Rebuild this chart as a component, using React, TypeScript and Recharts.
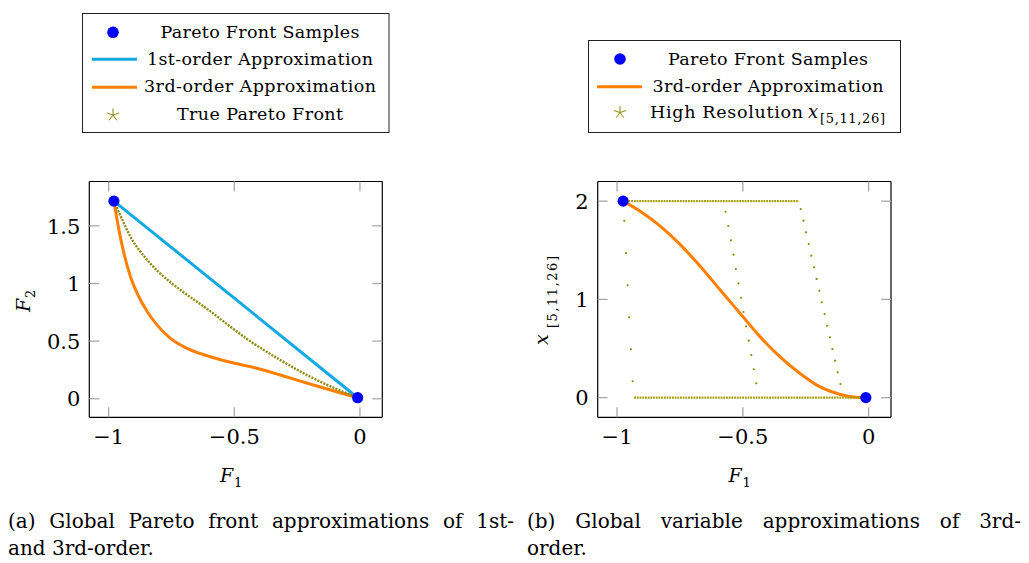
import React from 'react';
import { ComposedChart, Line, Scatter, XAxis, YAxis } from 'recharts';

// ---- panel (a): Pareto front approximations ----
const samplesF1 = [-0.979, -0.009];
const samplesF2 = [1.715, 0.009];

const firstOrderF1 = [-0.979, -0.009];
const firstOrderF2 = [1.715, 0.009];

const thirdOrderF1 = [-0.979, -0.959, -0.939, -0.913, -0.88, -0.846, -0.807, -0.754, -0.688, -0.608, -0.516, -0.41, -0.317, -0.185, -0.079, -0.009];
const thirdOrderF2 = [1.715, 1.463, 1.261, 1.058, 0.885, 0.755, 0.639, 0.524, 0.437, 0.373, 0.316, 0.264, 0.206, 0.119, 0.052, 0.009];

const trueFrontF1 = [-0.979, -0.939, -0.913, -0.846, -0.754, -0.714, -0.615, -0.437, -0.317, -0.185, -0.009];
const trueFrontF2 = [1.715, 1.521, 1.405, 1.203, 1.01, 0.943, 0.79, 0.5, 0.336, 0.177, 0.009];

// ---- panel (b): variable approximations ----
const varSamplesF1 = [-0.976, -0.011];
const varSamplesX = [2, 0];

const varThirdF1 = [-0.976, -0.905, -0.826, -0.747, -0.668, -0.59, -0.511, -0.432, -0.353, -0.274, -0.195, -0.116, -0.05, -0.011];
const varThirdX = [2.0, 1.892, 1.74, 1.553, 1.333, 1.096, 0.859, 0.621, 0.417, 0.248, 0.112, 0.035, 0.004, 0];

// high resolution samples where the variables switch
const x5F1 = [-0.9712, -0.9645, -0.9578, -0.9515, -0.9448, -0.9381];
const x5Val = [1.8, 1.472, 1.143, 0.818, 0.492, 0.167];
const x11F1 = [-0.5687, -0.558, -0.5474, -0.5371, -0.5276, -0.5174, -0.5067, -0.4976, -0.487, -0.4763, -0.4661, -0.4566, -0.4463];
const x11Val = [1.892, 1.747, 1.601, 1.455, 1.309, 1.164, 1.017, 0.872, 0.726, 0.58, 0.434, 0.289, 0.146];
const x26F1 = [-0.27, -0.259, -0.249, -0.238, -0.228, -0.217, -0.207, -0.196, -0.186, -0.175, -0.165, -0.154, -0.144, -0.133, -0.123, -0.112];
const x26Val = [1.92, 1.801, 1.683, 1.564, 1.445, 1.327, 1.208, 1.089, 0.971, 0.851, 0.732, 0.614, 0.495, 0.376, 0.258, 0.139];
// the densely sampled flat stretches
const upperF1 = [-0.976, -0.277];
const upperVal = [2, 2];
const lowerF1 = [-0.932, -0.011];
const lowerVal = [0, 0];

const xTicks = [-1, -0.5, 0];
const f2Ticks = [0, 0.5, 1, 1.5];
const varTicks = [0, 1, 2];

const SERIF = "'DejaVu Serif', serif";
const BLUE = '#0000ff';
const CYAN = '#12a9e3';
const ORANGE = '#ff7f00';
const OLIVE = '#8c8800';
const TICK = '#a8a8a8';

const zip = (xs: number[], ys: number[]) => xs.map((x, i) => ({ x, y: ys[i] }));
const fmt = (v: number) => (v < 0 ? `\u2212${Math.abs(v)}` : `${v}`);

const labelStyle = { fontFamily: SERIF, fontSize: 21, fill: '#000' };

const BottomTick = (p: any) => (
  <g>
    <line x1={p.x} x2={p.x} y1={p.y} y2={p.y - 10} stroke={TICK} strokeWidth={1.3} />
    <text x={p.x} y={p.y + 27} textAnchor="middle" style={labelStyle}>{fmt(p.payload.value)}</text>
  </g>
);
const TopTick = (p: any) => (
  <line x1={p.x} x2={p.x} y1={p.y} y2={p.y + 10} stroke={TICK} strokeWidth={1.3} />
);
const LeftTick = (p: any) => (
  <g>
    <line x1={p.x} x2={p.x + 10} y1={p.y} y2={p.y} stroke={TICK} strokeWidth={1.3} />
    <text x={p.x - 9} y={p.y + 7.7} textAnchor="end" style={labelStyle}>{fmt(p.payload.value)}</text>
  </g>
);
const RightTick = (p: any) => (
  <line x1={p.x} x2={p.x - 10} y1={p.y} y2={p.y} stroke={TICK} strokeWidth={1.3} />
);

const BigDot = (p: any) => <circle cx={p.cx} cy={p.cy} r={5.6} fill={BLUE} />;
const TinyDot = (p: any) => <circle cx={p.cx} cy={p.cy} r={1.1} fill={OLIVE} />;

const X_DOMAIN: [number, number] = [-1.077, 0.089];
const frame = { stroke: '#000', strokeWidth: 1.2 };
const ids = { xAxisId: 'b', yAxisId: 'l' };

function ParetoChart() {
  const yDomain: [number, number] = [-0.161, 1.885];
  return (
    <ComposedChart width={520} height={500} margin={{ top: 180.5, left: 88.3, right: 136.7, bottom: 81.7 }}>
      <XAxis xAxisId="b" dataKey="x" type="number" domain={X_DOMAIN} allowDataOverflow ticks={xTicks}
        interval={0} height={1} tickSize={0} tickMargin={0} axisLine={frame} tickLine={false} tick={BottomTick} />
      <XAxis xAxisId="t" orientation="top" dataKey="x" type="number" domain={X_DOMAIN} allowDataOverflow
        ticks={xTicks} interval={0} height={1} tickSize={0} tickMargin={0} axisLine={frame} tickLine={false} tick={TopTick} />
      <YAxis yAxisId="l" dataKey="y" type="number" domain={yDomain} allowDataOverflow ticks={f2Ticks}
        interval={0} width={1} tickSize={0} tickMargin={0} axisLine={frame} tickLine={false} tick={LeftTick} />
      <YAxis yAxisId="r" orientation="right" dataKey="y" type="number" domain={yDomain} allowDataOverflow
        ticks={f2Ticks} interval={0} width={1} tickSize={0} tickMargin={0} axisLine={frame} tickLine={false} tick={RightTick} />
      <Scatter {...ids} data={zip(samplesF1, samplesF2)} shape={BigDot} isAnimationActive={false} />
      <Line {...ids} data={zip(firstOrderF1, firstOrderF2)} dataKey="y" type="linear" stroke={CYAN}
        strokeWidth={3} dot={false} activeDot={false} isAnimationActive={false} />
      <Line {...ids} data={zip(thirdOrderF1, thirdOrderF2)} dataKey="y" type="monotone" stroke={ORANGE}
        strokeWidth={3} dot={false} activeDot={false} isAnimationActive={false} />
      <Line {...ids} data={zip(trueFrontF1, trueFrontF2)} dataKey="y" type="monotone" stroke={OLIVE}
        strokeWidth={2.4} strokeDasharray="2 1.3" dot={false} activeDot={false} isAnimationActive={false} />
    </ComposedChart>
  );
}

function VariableChart() {
  const yDomain: [number, number] = [-0.2, 2.2];
  return (
    <ComposedChart width={509} height={500} margin={{ top: 180.5, left: 76.7, right: 137, bottom: 81.7 }}>
      <XAxis xAxisId="b" dataKey="x" type="number" domain={X_DOMAIN} allowDataOverflow ticks={xTicks}
        interval={0} height={1} tickSize={0} tickMargin={0} axisLine={frame} tickLine={false} tick={BottomTick} />
      <XAxis xAxisId="t" orientation="top" dataKey="x" type="number" domain={X_DOMAIN} allowDataOverflow
        ticks={xTicks} interval={0} height={1} tickSize={0} tickMargin={0} axisLine={frame} tickLine={false} tick={TopTick} />
      <YAxis yAxisId="l" dataKey="y" type="number" domain={yDomain} allowDataOverflow ticks={varTicks}
        interval={0} width={1} tickSize={0} tickMargin={0} axisLine={frame} tickLine={false} tick={LeftTick} />
      <YAxis yAxisId="r" orientation="right" dataKey="y" type="number" domain={yDomain} allowDataOverflow
        ticks={varTicks} interval={0} width={1} tickSize={0} tickMargin={0} axisLine={frame} tickLine={false} tick={RightTick} />
      <Scatter {...ids} data={zip(varSamplesF1, varSamplesX)} shape={BigDot} isAnimationActive={false} />
      <Line {...ids} data={zip(varThirdF1, varThirdX)} dataKey="y" type="monotone" stroke={ORANGE}
        strokeWidth={3} dot={false} activeDot={false} isAnimationActive={false} />
      <Line {...ids} data={zip(upperF1, upperVal)} dataKey="y" type="linear" stroke="#a49d00"
        strokeWidth={2.2} strokeDasharray="1.8 0.9" dot={false} activeDot={false} isAnimationActive={false} />
      <Line {...ids} data={zip(lowerF1, lowerVal)} dataKey="y" type="linear" stroke="#a49d00"
        strokeWidth={2.2} strokeDasharray="1.8 0.9" dot={false} activeDot={false} isAnimationActive={false} />
      <Scatter {...ids} data={zip(x5F1, x5Val)} shape={TinyDot} isAnimationActive={false} />
      <Scatter {...ids} data={zip(x11F1, x11Val)} shape={TinyDot} isAnimationActive={false} />
      <Scatter {...ids} data={zip(x26F1, x26Val)} shape={TinyDot} isAnimationActive={false} />
    </ComposedChart>
  );
}

function Star({ cx, cy }: { cx: number; cy: number }) {
  const r = 6.5;
  return (
    <g stroke={OLIVE} strokeWidth={1}>
      {[0, 1, 2, 3, 4].map((k) => {
        const a = -Math.PI / 2 + (k * 2 * Math.PI) / 5;
        return <line key={k} x1={cx} y1={cy} x2={cx + r * Math.cos(a)} y2={cy + r * Math.sin(a)} />;
      })}
    </g>
  );
}

const legendText = { fontFamily: SERIF, fontSize: 17.5, fill: '#000' };
const mathIt = { fontFamily: SERIF, fontSize: 19, fontStyle: 'italic' as const, fill: '#000' };
const mathSub = { fontFamily: SERIF, fontSize: 13, fill: '#000' };

function Overlay() {
  return (
    <svg width={1029} height={563} style={{ position: 'absolute', left: 0, top: 0, pointerEvents: 'none' }}>
      {/* legend (a) */}
      <rect x={82.5} y={13.5} width={306.5} height={119} fill="#fff" stroke="#222" strokeWidth={1} />
      <circle cx={113} cy={32.3} r={5.8} fill={BLUE} />
      <text x={260} y={38.3} textAnchor="middle" textLength={199} style={legendText}>Pareto Front Samples</text>
      <line x1={92} x2={137} y1={59.3} y2={59.3} stroke={CYAN} strokeWidth={3} />
      <text x={260} y={65} textAnchor="middle" textLength={226} style={legendText}>1st-order Approximation</text>
      <line x1={92} x2={137} y1={87.3} y2={87.3} stroke={ORANGE} strokeWidth={3} />
      <text x={260} y={92.3} textAnchor="middle" textLength={232} style={legendText}>3rd-order Approximation</text>
      <Star cx={113} cy={115} />
      <text x={260} y={120} textAnchor="middle" textLength={166} style={legendText}>True Pareto Front</text>

      {/* legend (b) */}
      <rect x={588.5} y={40.5} width={312} height={92} fill="#fff" stroke="#222" strokeWidth={1} />
      <circle cx={620} cy={59} r={5.8} fill={BLUE} />
      <text x={768} y={65} textAnchor="middle" textLength={200} style={legendText}>Pareto Front Samples</text>
      <line x1={597} x2={642} y1={86.7} y2={86.7} stroke={ORANGE} strokeWidth={3} />
      <text x={768} y={91.7} textAnchor="middle" textLength={231} style={legendText}>3rd-order Approximation</text>
      <Star cx={620} cy={112.5} />
      <text x={650} y={118.3} textLength={153} style={legendText}>High Resolution</text>
      <text x={808} y={118.3} style={{ ...mathIt, fontSize: 18 }}>x</text>
      <text x={820} y={123} textLength={65} style={mathSub}>[5,11,26]</text>

      {/* axis titles */}
      <text x={220} y={481.7} style={mathIt}>F</text>
      <text x={234} y={487} style={mathSub}>1</text>
      <text x={728.5} y={481.7} style={mathIt}>F</text>
      <text x={742.5} y={487} style={mathSub}>1</text>

      <g transform="translate(30,312) rotate(-90)">
        <text x={0} y={0} style={mathIt}>F</text>
        <text x={14} y={5.3} style={mathSub}>2</text>
      </g>
      <g transform="translate(548,345) rotate(-90)">
        <text x={0} y={0} style={mathIt}>x</text>
        <text x={17} y={9} textLength={72} style={mathSub}>[5,11,26]</text>
      </g>
    </svg>
  );
}

const captionStyle: React.CSSProperties = {
  position: 'absolute',
  fontFamily: SERIF,
  fontSize: 20,
  lineHeight: '27px',
  whiteSpace: 'nowrap',
  color: '#000',
};

export default function App() {
  return (
    <div style={{ position: 'absolute', left: 0, top: 0, width: 1029, height: 563, background: '#fff', overflow: 'hidden' }}>
      <div style={{ position: 'absolute', left: 0, top: 0 }}>
        <ParetoChart />
      </div>
      <div style={{ position: 'absolute', left: 520, top: 0 }}>
        <VariableChart />
      </div>
      <Overlay />
      <div style={{ ...captionStyle, left: 8, top: 508, width: 506, textAlign: 'justify', textAlignLast: 'justify' }}>
        (a) Global Pareto front approximations of 1st-
      </div>
      <div style={{ ...captionStyle, left: 8, top: 535 }}>and 3rd-order.</div>
      <div style={{ ...captionStyle, left: 527, top: 508, width: 494, textAlign: 'justify', textAlignLast: 'justify' }}>
        (b) Global variable approximations of 3rd-
      </div>
      <div style={{ ...captionStyle, left: 527, top: 535 }}>order.</div>
    </div>
  );
}
